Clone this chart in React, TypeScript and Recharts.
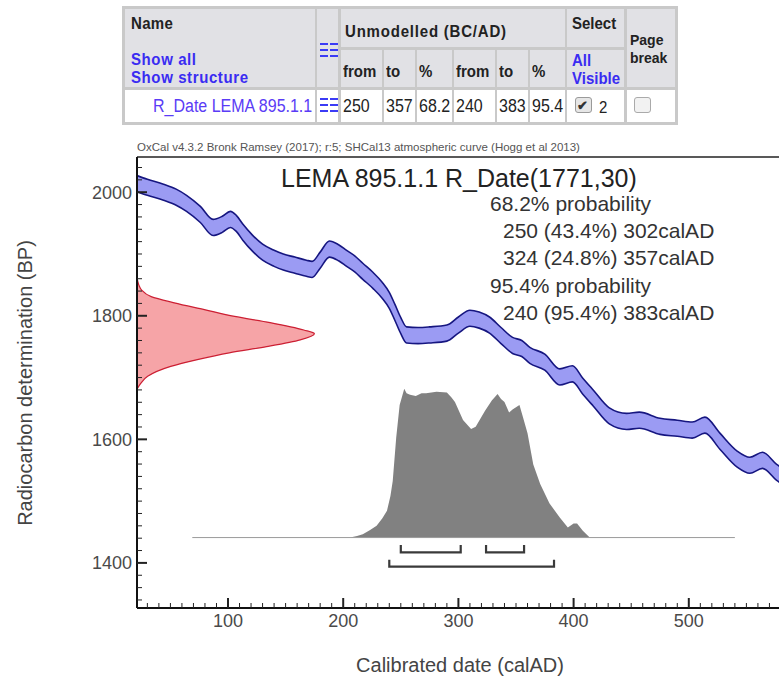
import React from "react";
import { ComposedChart, Area, Line, XAxis, YAxis, ReferenceLine } from "recharts";

// ─── Data ─────────────────────────────────────────────────────────────────────

// calibration curve (SHCal13), centre of band
const curveDates = [
  21, 30, 44, 55, 64, 76, 87, 95, 102, 107, 113, 121, 130, 140, 148, 158, 168,
  173, 180, 188, 196, 203, 210, 217, 226, 234, 240, 245, 250, 255, 265, 275,
  290, 300, 310, 318, 327, 337, 347, 355, 362, 375, 388, 399, 408, 417, 431,
  446, 457, 475, 490, 503, 514, 527, 542, 553, 564, 576, 590, 600,
];
const curveBP = [
  2014, 2008, 2000, 1992, 1982, 1964, 1943, 1948, 1956, 1950, 1935, 1918, 1903,
  1893, 1887, 1882, 1877, 1875, 1890, 1908, 1902, 1893, 1884, 1872, 1857, 1841,
  1825, 1805, 1784, 1769, 1768, 1769, 1772, 1785, 1796, 1793, 1785, 1768, 1752,
  1747, 1736, 1725, 1701, 1706, 1686, 1667, 1638, 1629, 1631, 1621, 1618, 1615,
  1623, 1597, 1568, 1558, 1566, 1547, 1530, 1520,
];
const curveSigma = 13;

// calibrated probability distribution (relative height)
const distDates = [
  206, 212, 217, 223, 229, 234, 238, 241, 243, 246, 249, 253, 255, 258, 263,
  268, 272, 281, 290, 294, 297, 304, 311, 315, 323, 329, 334, 337, 340, 344,
  347, 353, 356, 360, 365, 371, 379, 388, 395, 400, 403, 408, 414,
];
const distProb = [
  0, 0.01, 0.022, 0.05, 0.08, 0.13, 0.18, 0.28, 0.38, 0.67, 0.89, 1.0, 0.97,
  0.96, 0.95, 0.97, 0.97, 0.98, 0.975, 0.94, 0.91, 0.79, 0.73, 0.745, 0.85,
  0.92, 0.965, 0.93, 0.91, 0.84, 0.86, 0.89, 0.81, 0.7, 0.49, 0.36, 0.23, 0.135,
  0.067, 0.094, 0.094, 0.045, 0,
];
const distRange = [69, 540];

// radiocarbon measurement 1771 ± 30 BP (relative width)
const rDateBP = [
  1863, 1850, 1842, 1831, 1821, 1810, 1799, 1789, 1777, 1771, 1761, 1750, 1740,
  1729, 1718, 1702, 1690, 1681,
];
const rDateProb = [
  0, 0.01, 0.025, 0.08, 0.21, 0.38, 0.55, 0.75, 0.94, 1.0, 0.92, 0.73, 0.52,
  0.34, 0.19, 0.06, 0.02, 0,
];

const range68 = [
  [250, 302],
  [324, 357],
];
const range95 = [[240, 383]];

const xMajorTicks = [100, 200, 300, 400, 500];
const yMajorTicks = [1400, 1600, 1800, 2000];

const titleText = "LEMA 895.1.1 R_Date(1771,30)";
const headerText =
  "OxCal v4.3.2 Bronk Ramsey (2017); r:5; SHCal13 atmospheric curve (Hogg et al 2013)";
const probLines = [
  "68.2% probability",
  "250 (43.4%) 302calAD",
  "324 (24.8%) 357calAD",
  "95.4% probability",
  "240 (95.4%) 383calAD",
];

const subHeads = ["from", "to", "%", "from", "to", "%"];
const rowValues = ["250", "357", "68.2", "240", "383", "95.4"];
const rowName = "R_Date LEMA 895.1.1";

// ─── Layout ───────────────────────────────────────────────────────────────────

const FONT = "'Liberation Sans', Arial, sans-serif";
const X_DOMAIN: [number, number] = [21, 600];
const Y_DOMAIN: [number, number] = [1327, 2057];
const CHART_W = 830;
const CHART_H = 681;
const PLOT_LEFT = 137;
const PLOT_TOP = 157;
const PLOT_BOTTOM_PAD = 73;
const PLOT_RIGHT_PAD = 26;

const DIST_BASE = 1441;
const DIST_SPAN = 241;
const RDATE_SPAN = 154;

const minorX: number[] = [];
for (let v = 30; v <= 590; v += 10) minorX.push(v);
const minorY: number[] = [];
for (let v = 1340; v <= 2040; v += 20) minorY.push(v);

const bandData = curveDates.map((d, i) => ({
  date: d,
  band: [curveBP[i] - curveSigma, curveBP[i] + curveSigma],
}));
const distData = distDates.map((d, i) => ({
  date: d,
  top: DIST_BASE + distProb[i] * DIST_SPAN,
}));
const rDateData = rDateBP.map((bp, i) => ({
  bp,
  date: X_DOMAIN[0] + rDateProb[i] * RDATE_SPAN,
}));

function bracketPoints(ranges: number[][], bar: number, top: number) {
  const pts: { date: number; bp: number | null }[] = [];
  ranges.forEach(([a, b]) => {
    pts.push(
      { date: a, bp: top },
      { date: a, bp: bar },
      { date: b, bp: bar },
      { date: b, bp: top },
      { date: b, bp: null }
    );
  });
  return pts;
}
const bracketData = [
  ...bracketPoints(range68, 1417, 1429),
  ...bracketPoints(range95, 1394, 1405),
];

// ─── Ticks ────────────────────────────────────────────────────────────────────

function XTick({ x, y, payload }: any) {
  const major = xMajorTicks.includes(payload.value);
  return (
    <g>
      <line
        x1={x}
        x2={x}
        y1={y}
        y2={y - (major ? 10 : 5)}
        stroke="#222"
        strokeWidth={major ? 2 : 1}
      />
      {major && (
        <text
          x={x}
          y={y + 19}
          textAnchor="middle"
          fontSize={18}
          fontFamily={FONT}
          fill="#4a4a4a"
        >
          {payload.value}
        </text>
      )}
    </g>
  );
}

function YTick({ x, y, payload }: any) {
  const major = yMajorTicks.includes(payload.value);
  return (
    <g>
      <line
        x1={x}
        x2={x + (major ? 10 : 5)}
        y1={y}
        y2={y}
        stroke="#222"
        strokeWidth={major ? 2 : 1}
      />
      {major && (
        <text
          x={x - 5}
          y={y + 6.5}
          textAnchor="end"
          fontSize={18}
          fontFamily={FONT}
          fill="#4a4a4a"
        >
          {payload.value}
        </text>
      )}
    </g>
  );
}

// ─── Table bits ───────────────────────────────────────────────────────────────

function Box({ x0, y0, x1, y1, bg, style }: any) {
  return (
    <div
      style={{
        position: "absolute",
        left: x0,
        top: y0,
        width: x1 - x0,
        height: y1 - y0,
        background: bg,
        ...style,
      }}
    />
  );
}

function Txt({ x, cy, size, bold, color = "#222", spacing = 0, stretch = 1, children }: any) {
  return (
    <div
      style={{
        position: "absolute",
        left: x,
        top: cy - size / 2,
        fontSize: size,
        lineHeight: `${size}px`,
        fontFamily: FONT,
        fontWeight: bold ? 700 : 400,
        color,
        letterSpacing: spacing,
        whiteSpace: "nowrap",
        transform: stretch !== 1 ? `scaleY(${stretch})` : undefined,
      }}
    >
      {children}
    </div>
  );
}

function GridIcon({ x, y }: { x: number; y: number }) {
  const bars = [];
  for (const dx of [0, 10]) {
    for (const dy of [0, 6, 12]) {
      bars.push(
        <Box key={`${dx}-${dy}`} x0={x + dx} y0={y + dy} x1={x + dx + 8} y1={y + dy + 2} bg="#3b3bf5" />
      );
    }
  }
  return <>{bars}</>;
}

const cols = [
  [125, 315],
  [317, 338],
  [341, 382],
  [384, 415],
  [417, 452],
  [454, 495],
  [497, 528],
  [530, 565],
  [567, 624],
  [627, 675],
];
const HEAD = "#e1e1e5";
const LINK = "#3a2cf2";

function DataTable() {
  const st = 1.15;
  return (
    <>
      <Box x0={122} y0={6} x1={678} y1={125} bg="#c9c9c9" />
      {/* header cells */}
      <Box x0={cols[0][0]} y0={9} x1={cols[0][1]} y1={87} bg={HEAD} />
      <Box x0={cols[1][0]} y0={9} x1={cols[1][1]} y1={87} bg={HEAD} />
      <Box x0={cols[2][0]} y0={9} x1={cols[7][1]} y1={47} bg={HEAD} />
      {cols.slice(2, 8).map(([a, b], i) => (
        <Box key={i} x0={a} y0={50} x1={b} y1={87} bg={HEAD} />
      ))}
      <Box x0={cols[8][0]} y0={9} x1={cols[8][1]} y1={47} bg={HEAD} />
      <Box x0={cols[8][0]} y0={50} x1={cols[8][1]} y1={87} bg={HEAD} />
      <Box x0={cols[9][0]} y0={9} x1={cols[9][1]} y1={87} bg={HEAD} />
      {/* data row */}
      {cols.map(([a, b], i) => (
        <Box key={i} x0={a} y0={90} x1={b} y1={122} bg="#fff" />
      ))}

      <Txt x={131} cy={22} size={15} bold spacing={0.3} stretch={st}>Name</Txt>
      <Txt x={131} cy={58} size={15} bold spacing={0.6} stretch={st} color={LINK}>Show all</Txt>
      <Txt x={131} cy={76} size={15} bold spacing={0.6} stretch={st} color={LINK}>Show structure</Txt>
      <GridIcon x={320} y={43} />
      <Txt x={345} cy={30} size={15} bold spacing={0.8} stretch={st}>Unmodelled (BC/AD)</Txt>
      {subHeads.map((s, i) => (
        <Txt key={i} x={cols[i + 2][0] + 2} cy={70} size={15} bold stretch={st}>{s}</Txt>
      ))}
      <Txt x={572} cy={22} size={15} bold stretch={st}>Select</Txt>
      <Txt x={572} cy={59} size={15} bold stretch={st} color={LINK}>All</Txt>
      <Txt x={572} cy={77} size={15} bold stretch={st} color={LINK}>Visible</Txt>
      <Txt x={630} cy={40} size={14} bold>Page</Txt>
      <Txt x={630} cy={58} size={14} bold>break</Txt>

      <Txt x={153} cy={106} size={16} stretch={st} color="#5a3cf6">{rowName}</Txt>
      <GridIcon x={320} y={98} />
      {rowValues.map((v, i) => (
        <Txt key={i} x={cols[i + 2][0] + 2} cy={106} size={16} stretch={st}>{v}</Txt>
      ))}
      <Box
        x0={575}
        y0={97}
        x1={592}
        y1={113}
        bg="#e6e6e6"
        style={{ border: "1px solid #9a9a9a", borderRadius: 3, boxSizing: "border-box" }}
      />
      <Txt x={577} cy={105} size={13} bold color="#333">✔</Txt>
      <Txt x={599} cy={106} size={15} stretch={st}>2</Txt>
      <Box
        x0={634}
        y0={97}
        x1={651}
        y1={113}
        bg="#f2f2f2"
        style={{ border: "1px solid #aaa", borderRadius: 3, boxSizing: "border-box" }}
      />
    </>
  );
}

// ─── Chart ────────────────────────────────────────────────────────────────────

const margin = { top: PLOT_TOP, right: PLOT_RIGHT_PAD, bottom: 0, left: 0 };

export default function App() {
  return (
    <div
      style={{
        position: "absolute",
        left: 0,
        top: 0,
        width: 779,
        height: 681,
        overflow: "hidden",
        background: "#fff",
        fontFamily: FONT,
      }}
    >
      <DataTable />

      {/* measurement curve on the BP axis (drawn underneath) */}
      <div style={{ position: "absolute", left: 0, top: 0 }}>
        <ComposedChart
          layout="vertical"
          width={CHART_W}
          height={CHART_H}
          data={rDateData}
          margin={{
            top: PLOT_TOP,
            right: PLOT_RIGHT_PAD,
            bottom: PLOT_BOTTOM_PAD,
            left: PLOT_LEFT,
          }}
        >
          <XAxis type="number" domain={X_DOMAIN} allowDataOverflow hide />
          <YAxis
            type="number"
            dataKey="bp"
            domain={Y_DOMAIN}
            allowDataOverflow
            reversed
            hide
          />
          <Area
            dataKey="date"
            type="monotone"
            fill="#f6a4a7"
            fillOpacity={1}
            stroke="#cc1f33"
            strokeWidth={1.2}
            isAnimationActive={false}
          />
        </ComposedChart>
      </div>

      <div style={{ position: "absolute", left: 0, top: 0 }}>
        <ComposedChart width={CHART_W} height={CHART_H} margin={margin}>
          <XAxis
            dataKey="date"
            type="number"
            domain={X_DOMAIN}
            allowDataOverflow
            ticks={minorX}
            interval={0}
            tick={<XTick />}
            tickSize={0}
            tickMargin={0}
            tickLine={false}
            height={PLOT_BOTTOM_PAD}
            axisLine={{ stroke: "#111", strokeWidth: 2 }}
          />
          <YAxis
            type="number"
            domain={Y_DOMAIN}
            allowDataOverflow
            ticks={minorY}
            interval={0}
            tick={<YTick />}
            tickSize={0}
            tickMargin={0}
            tickLine={false}
            width={PLOT_LEFT}
            axisLine={{ stroke: "#111", strokeWidth: 2 }}
          />
          <ReferenceLine y={Y_DOMAIN[1]} stroke="#222" strokeWidth={1.5} />
          <ReferenceLine
            segment={[
              { x: distRange[0], y: DIST_BASE },
              { x: distRange[1], y: DIST_BASE },
            ]}
            stroke="#9a9a9a"
            strokeWidth={1}
          />
          <Area
            data={distData}
            dataKey="top"
            baseValue={DIST_BASE}
            type="linear"
            fill="#818181"
            fillOpacity={1}
            stroke="none"
            isAnimationActive={false}
          />
          <Area
            data={bandData}
            dataKey="band"
            type="monotone"
            fill="#9b9bf3"
            fillOpacity={1}
            stroke="#161680"
            strokeWidth={1.6}
            isAnimationActive={false}
          />
          <Line
            data={bracketData}
            dataKey="bp"
            type="linear"
            stroke="#3a3a3a"
            strokeWidth={2.2}
            dot={false}
            isAnimationActive={false}
          />
        </ComposedChart>
      </div>

      {/* texts */}
      <Txt x={137} cy={148} size={11.5} color="#555">{headerText}</Txt>
      <Txt x={281} cy={178} size={25} color="#222">{titleText}</Txt>
      {probLines.map((t, i) => (
        <Txt
          key={i}
          x={t.includes("probability") ? 490 : 503}
          cy={[203, 230, 257, 285, 312][i]}
          size={21}
          color="#333"
        >
          {t}
        </Txt>
      ))}
      <div
        style={{
          position: "absolute",
          left: 25,
          top: 383,
          transform: "translate(-50%, -50%) rotate(-90deg)",
          fontSize: 20,
          color: "#444",
          whiteSpace: "nowrap",
        }}
      >
        Radiocarbon determination (BP)
      </div>
      <div
        style={{
          position: "absolute",
          left: 460,
          top: 665,
          transform: "translate(-50%, -50%)",
          fontSize: 20,
          color: "#444",
          whiteSpace: "nowrap",
        }}
      >
        Calibrated date (calAD)
      </div>
    </div>
  );
}
